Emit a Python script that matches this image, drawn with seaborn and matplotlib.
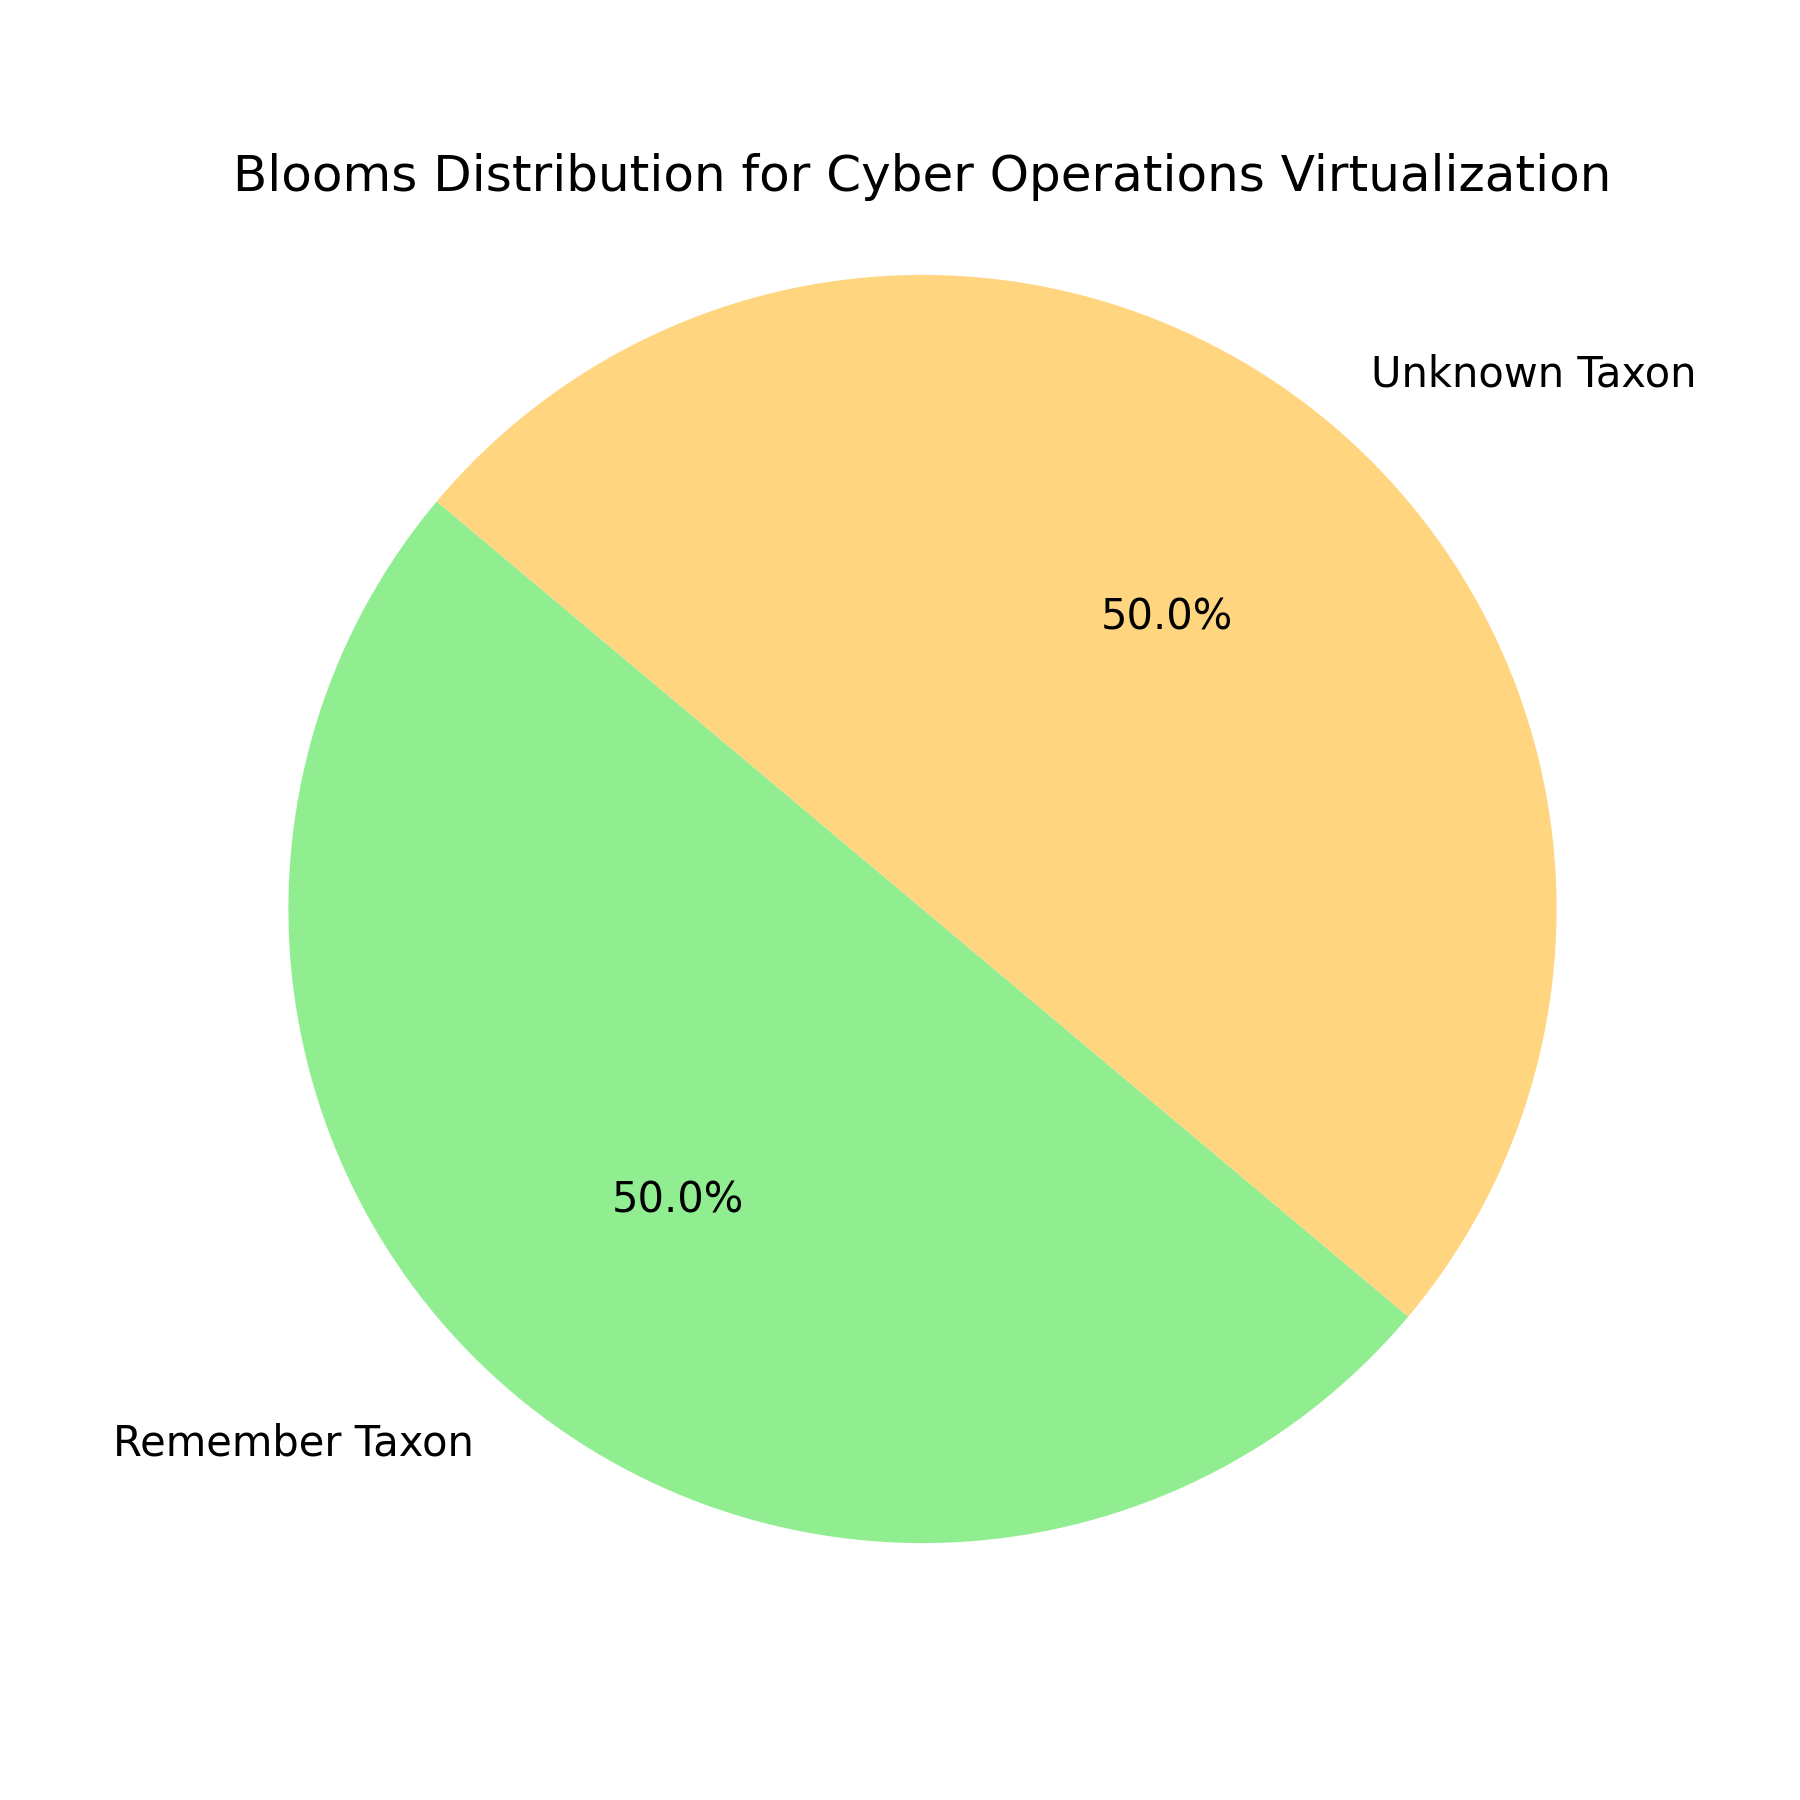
import matplotlib
matplotlib.use("Agg")
import matplotlib.pyplot as plt
import seaborn as sns

# data
categorias = ["Remember Taxon", "Unknown Taxon"]
valores = [1, 1]
colores = ["#90EE90", "#FFD580"]

sns.reset_orig()
plt.rcParams['font.family'] = ['DejaVu Sans']

fig, ax = plt.subplots(figsize=(6, 6), dpi=300)
ax.pie(valores, labels=categorias, colors=sns.color_palette(colores),
       autopct='%1.1f%%', startangle=140)
ax.set_title('Blooms Distribution for Cyber Operations Virtualization')
ax.axis('equal')

plt.savefig('out.png', dpi=300)
